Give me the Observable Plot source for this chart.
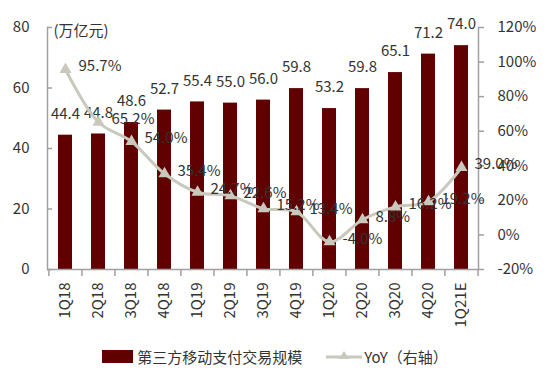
<!DOCTYPE html>
<html><head><meta charset="utf-8">
<script src="https://cdn.jsdelivr.net/npm/d3@7"></script>
<script src="https://cdn.jsdelivr.net/npm/@observablehq/plot@0.6"></script>
<style>
body{margin:0;background:#fff;font-family:"Noto Sans CJK SC","Noto Sans",sans-serif;color:#333;}
#legend{display:flex;justify-content:center;align-items:center;height:42px;font-size:15px;}
#legend .sw{display:inline-block;width:31px;height:13px;background:#600000;margin-right:4px;}
#legend .gap{width:24px;}
</style></head><body>
<div id="chart"></div>
<div id="legend"></div>
<script>
const quarters = ["1Q18","2Q18","3Q18","4Q18","1Q19","2Q19","3Q19","4Q19","1Q20","2Q20","3Q20","4Q20","1Q21E"];
const volume = [44.4,44.8,48.6,52.7,55.4,55.0,56.0,59.8,53.2,59.8,65.1,71.2,74.0];
const yoy = [95.7,65.2,54.0,35.4,24.7,22.6,15.2,13.4,-4.0,8.8,16.2,19.2,39.0];
const leftTicks = [0,20,40,60,80];
const rightTicks = [-20,0,20,40,60,80,100,120];
const unitLabel = "(万亿元)";
const seriesNames = ["第三方移动支付交易规模","YoY（右轴）"];

const barColor = "#600000", lineColor = "#c8c8bd", axisColor = "#a0a0a0", textColor = "#333";
const toLeft = v => (v + 20) * 80 / 140;
const fromLeft = v => v * 140 / 80 - 20;
const data = quarters.map((q, i) => ({q, v: volume[i], yoy: yoy[i], yl: toLeft(yoy[i])}));

const W = 550, H = 335, mL = 47, mR = 72, mT = 27, mB = 66;
const plotW = W - mL - mR, plotH = H - mT - mB;
const step = plotW / quarters.length;

const chart = Plot.plot({
  width: W, height: H, marginLeft: mL, marginRight: mR, marginTop: mT, marginBottom: mB,
  style: {fontFamily: '"Noto Sans CJK SC","Noto Sans",sans-serif', fontSize: "15px", color: textColor, background: "#fff", overflow: "visible"},
  x: {domain: quarters, paddingInner: 0.58, paddingOuter: 0.29, label: null},
  y: {domain: [0, 80], label: null},
  marks: [
    Plot.barY(data, {x: "q", y: "v", fill: barColor}),
    Plot.ruleY([0], {stroke: axisColor, strokeWidth: 1.5}),
    Plot.frame({anchor: "left", stroke: axisColor, strokeWidth: 1.5}),
    Plot.frame({anchor: "right", stroke: axisColor, strokeWidth: 1.5}),
    Plot.tickY(leftTicks, {y: d => d, stroke: axisColor, strokeWidth: 1.5, insetRight: plotW - 5}),
    Plot.axisY(leftTicks, {anchor: "left", tickSize: 0, tickPadding: 18, fontSize: 15, label: null}),
    Plot.axisY(rightTicks.map(toLeft), {anchor: "right", tickSize: 5, tickPadding: 14, stroke: axisColor, strokeWidth: 1.5, fontSize: 15, label: null, tickFormat: d => Math.round(fromLeft(d)) + "%"}),
    Plot.tickX(quarters, {x: d => d, dx: -step / 2, stroke: axisColor, strokeWidth: 1.5, insetTop: plotH, insetBottom: -7}),
    Plot.tickX([quarters[quarters.length - 1]], {x: d => d, dx: step / 2, stroke: axisColor, strokeWidth: 1.5, insetTop: plotH, insetBottom: -7}),
    Plot.axisX({tickRotate: -90, tickSize: 0, tickPadding: 13, fontSize: 15, label: null}),
    Plot.text(data, {x: "q", y: "v", text: d => d.v.toFixed(1), dy: -21, fontSize: 15, fill: textColor}),
    Plot.line(data, {x: "q", y: "yl", stroke: lineColor, strokeWidth: 3, curve: "catmull-rom"}),
    Plot.dot(data, {x: "q", y: "yl", symbol: "triangle", r: 4.5, fill: lineColor}),
    Plot.text(data, {x: "q", y: "yl", text: d => d.yoy.toFixed(1) + "%", textAnchor: "start", dx: 13, dy: -3, fontSize: 15, fill: textColor}),
    Plot.text([unitLabel], {frameAnchor: "top-left", text: d => d, dx: 6, dy: -2, fontSize: 15, fill: textColor})
  ]
});
document.getElementById("chart").appendChild(chart);

const lg = document.getElementById("legend");
lg.innerHTML = `<span class="sw"></span><span>${seriesNames[0]}</span><span class="gap"></span>
<svg width="36" height="14" style="margin-right:2px"><line x1="0" y1="8" x2="36" y2="8" stroke="${lineColor}" stroke-width="3"/><path d="M18,2 L23,10 L13,10 Z" fill="${lineColor}"/></svg><span>${seriesNames[1]}</span>`;
</script>
</body></html>
